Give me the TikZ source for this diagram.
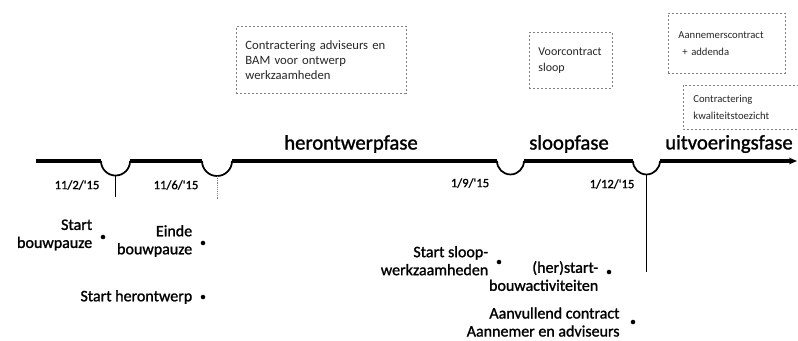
\documentclass[tikz,border=0pt]{standalone}
\usepackage{fontspec}
\setmainfont{Carlito}
\newfontfamily\zwaar[FakeBold=1.3]{Carlito}
\usetikzlibrary{positioning,arrows.meta}
\begin{document}
\begin{tikzpicture}[x=0.75pt,y=0.75pt]
  \tikzstyle{tl}=[line width=2.6pt]
  \tikzstyle{boog}=[line width=1.3pt]
  \tikzstyle{bul}=[circle,fill,inner sep=0pt,minimum size=3.4pt]
  \tikzstyle{lbl}=[align=right,font=\zwaar\fontsize{12}{13.5}\selectfont,inner sep=0pt]
  \tikzstyle{dte}=[font=\zwaar\fontsize{9.5}{11}\selectfont,inner sep=1pt]
  \tikzstyle{fase}=[font=\zwaar\fontsize{15.5}{18}\selectfont,inner sep=0pt]
  \tikzstyle{memo}=[draw=gray,dash pattern=on 1.5pt off 1.5pt,line width=0.6pt,anchor=north west,align=left,text=black!85]

  \useasboundingbox (0,0) rectangle (798,-340);

  \coordinate (t0) at (36,-161);
  \coordinate (t1) at (101,-161);
  \coordinate (t2) at (130,-161);
  \coordinate (t3) at (202,-161);
  \coordinate (t4) at (232,-161);
  \coordinate (t5) at (497,-161);
  \coordinate (t6) at (524,-161);
  \coordinate (t7) at (633,-161);
  \coordinate (t8) at (660,-161);
  \coordinate (t9) at (797,-161);

  \draw[tl] (t0) -- (t1);
  \draw[tl] (t2) -- (t3);
  \draw[tl] (t4) -- (t5);
  \draw[tl] (t6) -- (t7);
  \draw[tl,-{Stealth[length=6pt,width=5pt]}] (t8) -- (t9);

  \draw[boog] (t1) arc[start angle=180,end angle=360,radius=10.9pt];
  \draw[boog] (t3) arc[start angle=180,end angle=360,radius=11.25pt];
  \draw[boog] (t5) arc[start angle=180,end angle=360,radius=10.1pt];
  \draw[boog] (t7) arc[start angle=180,end angle=360,radius=10.1pt];

  \coordinate (k1) at (115.5,-175.5);
  \coordinate (k1e) at (115.5,-197);
  \coordinate (k2) at (217,-176);
  \coordinate (k2e) at (217,-200);
  \coordinate (k4) at (646.5,-174.5);
  \coordinate (k4e) at (646.5,-272);
  \draw[line width=1.2pt] (k1) -- (k1e);
  \draw[gray,densely dotted] (k2) -- (k2e);
  \draw[line width=1.2pt] (k4) -- (k4e);

  \node[fase] (f1) at (351,-144) {herontwerpfase};
  \node[fase] (f2) at (569,-144) {sloopfase};
  \node[fase,anchor=west] (f3) at (665,-144) {uitvoeringsfase};

  \node[dte] (d1) at (77,-185) {11/2/'15};
  \node[dte] (d2) at (176,-185) {11/6/'15};
  \node[dte] (d3) at (470,-183) {1/9/'15};
  \node[dte] (d4) at (612,-184) {1/12/'15};

  \node[bul] (b1) at (103,-237) {};
  \node[lbl,left=6pt of b1,yshift=1.5pt] (l1) {Start\\bouwpauze};
  \node[bul] (b2) at (203,-243) {};
  \node[lbl,left=6pt of b2,yshift=1.5pt] (l2) {Einde\\bouwpauze};
  \node[bul] (b3) at (203,-297) {};
  \node[lbl,left=6pt of b3] (l3) {Start herontwerp};
  \node[bul] (b4) at (499,-262) {};
  \node[lbl,left=6pt of b4,yshift=1pt] (l4) {Start sloop-\\werkzaamheden};
  \node[bul] (b5) at (609,-272) {};
  \node[lbl,left=6pt of b5,yshift=-3pt] (l5) {(her)start-\\bouwactiviteiten};
  \node[bul] (b6) at (633,-322) {};
  \node[lbl,left=8pt of b6] (l6) {Aanvullend contract\\Aannemer en adviseurs};

  \node[memo,font=\fontsize{9.5}{11.25}\selectfont,text width=114pt,minimum height=50pt,inner xsep=6.75pt] (c1) at (236,-26) {Contractering adviseurs en\\BAM voor ontwerp\\werkzaamheden};
  \node[memo,font=\fontsize{9}{12}\selectfont,text width=48.5pt,minimum height=42pt,inner xsep=6.75pt] (c2) at (529,-32) {Voorcontract\\sloop};
  \node[memo,font=\fontsize{8}{13}\selectfont,text width=72.75pt,minimum height=45pt,inner xsep=7.5pt] (c3) at (668,-13) {Aannemerscontract\\\hspace*{3pt}+ addenda};
  \node[memo,font=\fontsize{8}{12.5}\selectfont,text width=75pt,minimum height=33pt,inner xsep=7.5pt] (c4) at (683,-85) {Contractering\\kwaliteitstoezicht};
\end{tikzpicture}
\end{document}
